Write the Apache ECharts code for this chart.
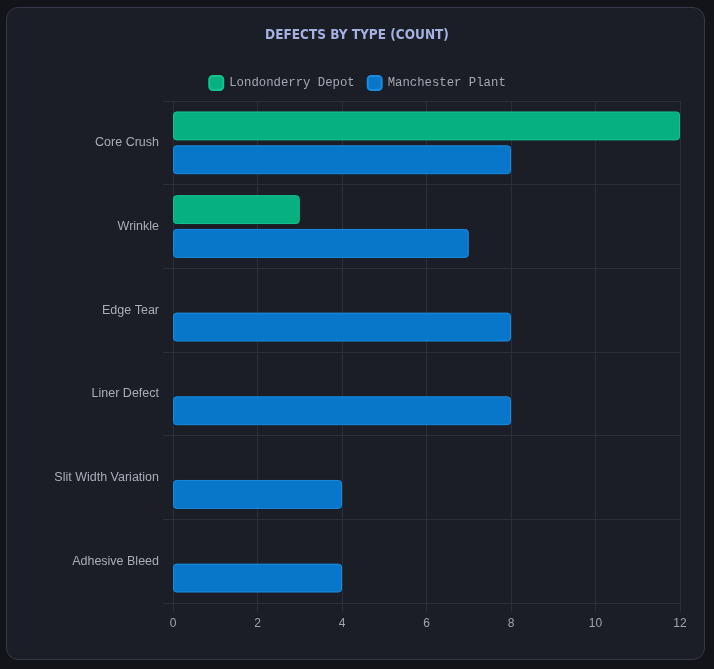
<!DOCTYPE html>
<html>
<head>
<meta charset="utf-8">
<script src="https://cdn.jsdelivr.net/npm/echarts@6/dist/echarts.min.js"></script>
<style>
  html, body { margin: 0; padding: 0; background: #121419; }
  #panel {
    position: absolute; left: 6px; top: 7px; width: 697px; height: 651px;
    background: #1b1d27; border: 1px solid #353848; border-radius: 12px;
  }
  #chart { position: absolute; left: 0; top: 0; width: 714px; height: 669px; }
</style>
</head>
<body>
<div id="panel"></div>
<div id="chart"></div>
<script>
// defects by type, per site
var categories = ['Core Crush', 'Wrinkle', 'Edge Tear', 'Liner Defect', 'Slit Width Variation', 'Adhesive Bleed'];
var londonderry = [12, 3, null, null, null, null];
var manchester = [8, 7, 8, 8, 4, 4];
var xTicks = [0, 2, 4, 6, 8, 10, 12];

var gridLine = '#2b2e3b';

var option = {
  backgroundColor: 'transparent',
  title: {
    text: 'DEFECTS BY TYPE (COUNT)',
    left: 'center',
    top: 23,
    textStyle: {
      color: '#a3b0e0',
      fontFamily: "'DejaVu Sans Condensed', 'Liberation Sans Narrow', sans-serif",
      fontWeight: 'bold',
      fontSize: 13.5
    }
  },
  legend: {
    data: ['Londonderry Depot', 'Manchester Plant'],
    top: 70,
    left: 'center',
    itemWidth: 14,
    itemHeight: 14,
    itemGap: 12,
    icon: 'roundRect',
    textStyle: {
      color: '#a4a8b4',
      fontFamily: "'Liberation Mono', 'DejaVu Sans Mono', monospace",
      fontSize: 12.3,
      padding: [0, 0, 0, 1]
    }
  },
  grid: {
    left: 173,
    right: 34,
    top: 101,
    bottom: 66
  },
  xAxis: {
    type: 'value',
    min: xTicks[0],
    max: xTicks[xTicks.length - 1],
    interval: 2,
    axisLine: { show: false },
    axisTick: { show: true, length: 9, lineStyle: { color: gridLine } },
    splitLine: { show: true, lineStyle: { color: gridLine } },
    axisLabel: {
      color: '#a0a4b0',
      fontFamily: "'Liberation Sans', Arial, sans-serif",
      fontSize: 12,
      margin: 15
    }
  },
  yAxis: {
    type: 'category',
    inverse: true,
    data: categories,
    axisLine: { show: false },
    axisTick: { show: true, length: 10, lineStyle: { color: gridLine } },
    splitLine: { show: true, lineStyle: { color: gridLine } },
    axisLabel: {
      color: '#a9adb8',
      fontFamily: "'Liberation Sans', Arial, sans-serif",
      fontSize: 12.5,
      margin: 14
    }
  },
  series: [
    {
      name: 'Londonderry Depot',
      type: 'bar',
      data: londonderry,
      barCategoryGap: '25%',
      barGap: '17%',
      itemStyle: {
        color: '#06b07f',
        borderColor: '#12c58f',
        borderWidth: 1,
        borderRadius: 3
      }
    },
    {
      name: 'Manchester Plant',
      type: 'bar',
      data: manchester,
      barCategoryGap: '25%',
      barGap: '17%',
      itemStyle: {
        color: '#0877c9',
        borderColor: '#1a8ce0',
        borderWidth: 1,
        borderRadius: 3
      }
    }
  ]
};

var chart = echarts.init(document.getElementById('chart'));
chart.setOption(option);
</script>
</body>
</html>
